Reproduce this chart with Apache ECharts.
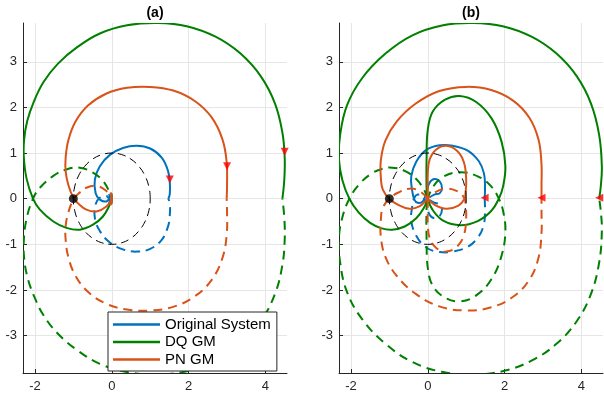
<!DOCTYPE html>
<html>
<head>
<meta charset="utf-8">
<script src="https://cdn.jsdelivr.net/npm/echarts@6/dist/echarts.min.js"></script>
<style>
  html, body { margin: 0; padding: 0; background: #fff; }
  #chart { width: 604px; height: 399px; }
</style>
</head>
<body>
<div id="chart"></div>
<script>
// Legend entries and their colours
const curveNames = ['Original System', 'DQ GM', 'PN GM'];
const curveColors = ['#0072BD', '#008000', '#D95319'];
const panelTitles = ['(a)', '(b)'];

// Axis ticks (real and imaginary parts)
const xTicks = [-2, 0, 2, 4];
const yTicks = [-3, -2, -1, 0, 1, 2, 3];

// Positive-frequency Nyquist branches; each curve is a list of smooth pieces
// (a new piece starts where the locus has a cusp). The negative-frequency
// branch is the complex conjugate and is drawn dashed.
const origA = [[
  [-0.08, 0.10], [-0.05, 0.04], [-0.14, -0.06], [-0.31, -0.02], [-0.42, 0.12],
  [-0.44, 0.42], [-0.31, 0.71], [-0.05, 0.96], [0.29, 1.11], [0.65, 1.16],
  [1.00, 1.10], [1.30, 0.90], [1.46, 0.62], [1.51, 0.36], [1.51, 0.10], [1.47, 0.0]
]];
const dqA = [[
  [-0.01, 0.12], [0.0, 0.0], [-0.05, -0.13], [-0.23, -0.39], [-0.49, -0.57],
  [-0.83, -0.68], [-1.18, -0.64], [-1.52, -0.50], [-1.87, -0.24], [-2.05, 0.0],
  [-2.22, 0.45], [-2.29, 0.93], [-2.28, 1.30], [-2.20, 1.70], [-2.04, 2.10],
  [-1.78, 2.55], [-1.40, 2.96], [-0.90, 3.32], [-0.31, 3.62], [0.40, 3.80],
  [1.20, 3.85], [1.95, 3.78], [2.70, 3.55], [3.35, 3.18], [3.88, 2.68],
  [4.25, 2.08], [4.44, 1.45], [4.50, 0.90], [4.49, 0.42], [4.44, 0.0]
]];
const pnA = [[
  [-0.03, 0.14], [0.0, 0.0], [-0.14, -0.17], [-0.40, -0.28], [-0.66, -0.24],
  [-0.88, -0.10], [-1.00, 0.02], [-1.13, 0.30], [-1.20, 0.60], [-1.20, 0.90],
  [-1.13, 1.28], [-0.95, 1.68], [-0.62, 2.04], [-0.15, 2.30], [0.40, 2.43],
  [0.99, 2.45], [1.60, 2.37], [2.16, 2.14], [2.60, 1.78], [2.88, 1.30],
  [2.99, 0.80], [3.00, 0.30], [2.99, 0.0]
]];

const origB = [[
  [0.05, 0.03], [0.17, 0.09], [0.31, 0.12], [0.37, 0.23], [0.31, 0.38],
  [0.17, 0.43], [0.04, 0.34], [-0.04, 0.12], [-0.13, -0.06], [-0.26, -0.09],
  [-0.35, -0.02], [-0.41, 0.20], [-0.43, 0.49], [-0.30, 0.81], [-0.04, 1.07],
  [0.31, 1.17], [0.65, 1.16], [1.05, 1.05], [1.33, 0.82], [1.46, 0.56],
  [1.49, 0.27], [1.48, 0.0]
]];
const dqB = [[
  [0.0, 0.05], [-0.03, 0.20], [-0.03, 0.92], [0.0, 1.51], [0.13, 1.91],
  [0.45, 2.17], [0.83, 2.25], [1.26, 2.12], [1.66, 1.76], [1.92, 1.25],
  [2.02, 0.71], [1.96, 0.27], [1.85, 0.0], [1.65, -0.27], [1.30, -0.49],
  [0.85, -0.58], [0.40, -0.48], [0.13, -0.25], [0.0, 0.0]
], [
  [0.0, 0.0], [-0.10, -0.20], [-0.30, -0.43], [-0.60, -0.61], [-0.93, -0.68],
  [-1.20, -0.65], [-1.50, -0.53], [-1.80, -0.30], [-2.04, 0.0], [-2.22, 0.40],
  [-2.31, 0.85], [-2.28, 1.40], [-2.10, 2.05], [-1.70, 2.65], [-1.10, 3.18],
  [-0.40, 3.58], [0.40, 3.80], [1.17, 3.85], [1.95, 3.78], [2.70, 3.55],
  [3.35, 3.18], [3.88, 2.68], [4.25, 2.08], [4.46, 1.40], [4.53, 0.71],
  [4.50, 0.25], [4.46, 0.0]
]];
const pnB = [[
  [0.0, 0.0], [0.0, 0.20], [0.0, 0.56], [0.05, 0.86], [0.22, 1.08],
  [0.48, 1.16], [0.76, 1.05], [0.94, 0.80], [1.00, 0.41], [0.98, 0.10],
  [0.96, 0.0], [0.80, -0.15], [0.48, -0.22], [0.17, -0.13], [0.0, 0.0]
], [
  [0.0, 0.0], [-0.22, -0.17], [-0.48, -0.22], [-0.78, -0.13], [-1.00, 0.0],
  [-1.17, 0.20], [-1.22, 0.45], [-1.22, 0.85], [-1.10, 1.28], [-0.80, 1.70],
  [-0.32, 2.08], [0.30, 2.36], [1.00, 2.45], [1.65, 2.38], [2.22, 2.15],
  [2.64, 1.78], [2.88, 1.30], [2.96, 0.75], [2.96, 0.30], [2.96, 0.0]
]];

// Direction arrows on each locus
const arrowsA = [[1.51, 0.42], [3.00, 0.71], [4.50, 1.03]];
const arrowsB = [[1.48, 0.02], [2.96, 0.02], [4.46, 0.02]];

// Critical point and unit circle
const criticalPoint = [[-1, 0]];
const unitCircle = [
  [1, 0], [0.966, 0.259], [0.866, 0.5], [0.707, 0.707], [0.5, 0.866], [0.259, 0.966],
  [0, 1], [-0.259, 0.966], [-0.5, 0.866], [-0.707, 0.707], [-0.866, 0.5], [-0.966, 0.259],
  [-1, 0], [-0.966, -0.259], [-0.866, -0.5], [-0.707, -0.707], [-0.5, -0.866], [-0.259, -0.966],
  [0, -1], [0.259, -0.966], [0.5, -0.866], [0.707, -0.707], [0.866, -0.5], [0.966, -0.259]
];

const panels = [
  { curves: [origA, dqA, pnA], arrows: arrowsA, arrowRotate: 180 },
  { curves: [origB, dqB, pnB], arrows: arrowsB, arrowRotate: 90 }
];

function conjugate(pieces) {
  return pieces.map(piece => piece.map(([x, y]) => [x, -y]));
}

const axisColor = '#262626';
const gridColor = '#e6e6e6';
const font = 'Liberation Sans, Arial, sans-serif';

const grids = [
  { left: 23, top: 23, width: 264, height: 350 },
  { left: 339, top: 23, width: 264, height: 350 }
];

function makeAxis(ticks, min, max, margin) {
  return {
    type: 'value', min, max,
    axisLine: { show: true, onZero: false, lineStyle: { color: axisColor, width: 1 } },
    axisTick: { show: true, inside: true, length: 4, customValues: ticks, lineStyle: { color: axisColor } },
    axisLabel: { customValues: ticks, color: axisColor, fontSize: 13, fontFamily: font, margin },
    splitLine: { show: true, lineStyle: { color: gridColor, width: 1 } }
  };
}

const xAxes = grids.map((g, i) => Object.assign(makeAxis(xTicks, -2.31, 4.56, 7), { gridIndex: i }));
const yAxes = grids.map((g, i) => Object.assign(makeAxis(yTicks, -3.82, 3.85, 6), { gridIndex: i }));

// A smooth locus: every piece is one data item, drawn as a smoothed polyline
// whose vertices are mapped through the cartesian axes.
function locus(name, color, pieces, p, dash, width, closed, z) {
  return {
    type: 'custom', name, coordinateSystem: 'cartesian2d',
    xAxisIndex: p, yAxisIndex: p, clip: true, silent: true, z,
    itemStyle: { color },
    data: pieces.map(piece => piece[0]),
    renderItem: (params, api) => {
      const pts = pieces[params.dataIndex].map(pt => api.coord(pt));
      return {
        type: closed ? 'polygon' : 'polyline',
        shape: { points: pts, smooth: 0.4 },
        style: { stroke: color, fill: closed ? 'none' : null, lineWidth: width, lineDash: dash }
      };
    }
  };
}

const series = [];
panels.forEach((panel, p) => {
  panel.curves.forEach((pieces, c) => {
    series.push(locus(curveNames[c], curveColors[c], pieces, p, null, 2, false, 2 + c * 0.1));
    series.push(locus(curveNames[c], curveColors[c], conjugate(pieces), p, [9, 6], 2, false, 2 + c * 0.1));
  });
  series.push(locus('unit circle', '#000', [unitCircle], p, [8, 5], 1, true, 3));
  series.push({
    type: 'scatter', name: 'critical point', xAxisIndex: p, yAxisIndex: p,
    data: criticalPoint, symbol: 'circle', symbolSize: 9, silent: true,
    itemStyle: { color: '#000' }, z: 4
  });
  series.push({
    type: 'scatter', name: 'direction', xAxisIndex: p, yAxisIndex: p,
    data: panel.arrows, symbol: 'triangle', symbolSize: [8, 8],
    symbolRotate: panel.arrowRotate, silent: true,
    itemStyle: { color: '#ff0000' }, z: 4
  });
});

const chart = echarts.init(document.getElementById('chart'), null, { renderer: 'canvas' });
chart.setOption({
  animation: false,
  backgroundColor: '#fff',
  title: panelTitles.map((t, i) => ({
    text: t, left: grids[i].left + grids[i].width / 2, top: 6, padding: 0,
    textAlign: 'center',
    textStyle: { fontSize: 14, fontWeight: 'bold', color: '#000', fontFamily: font }
  })),
  grid: grids,
  xAxis: xAxes,
  yAxis: yAxes,
  legend: {
    data: curveNames, orient: 'vertical', left: 108, top: 312,
    padding: [4, 6, 3, 5], itemGap: 0.5, itemWidth: 47, itemHeight: 2.5, icon: 'rect',
    backgroundColor: '#fff', borderColor: axisColor, borderWidth: 1, borderRadius: 0,
    selectedMode: false,
    textStyle: { fontSize: 15, lineHeight: 17, color: '#000', fontFamily: font }
  },
  series
});
</script>
</body>
</html>
